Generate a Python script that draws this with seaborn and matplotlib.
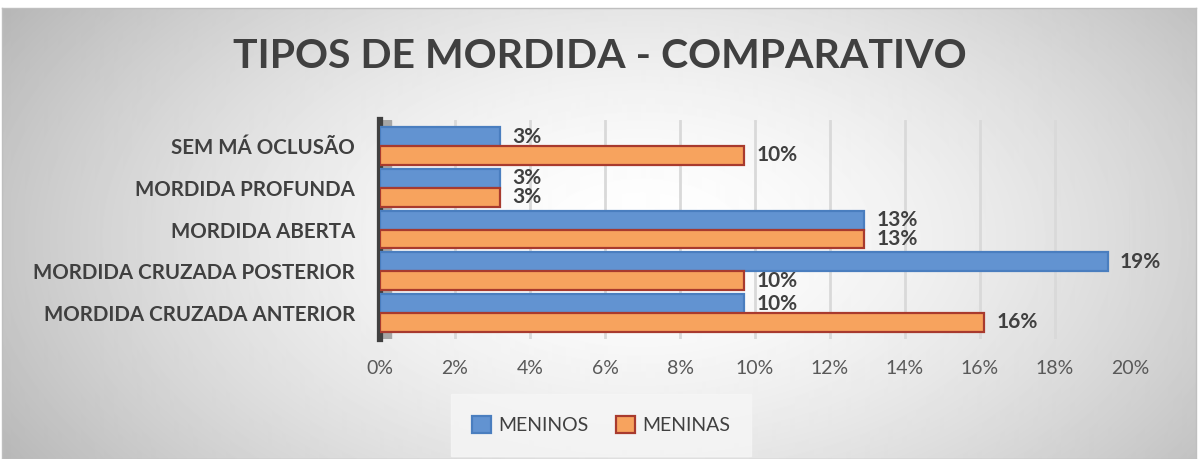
import numpy as np
import pandas as pd
import matplotlib
matplotlib.use("Agg")
import matplotlib.pyplot as plt
import seaborn as sns
from matplotlib.patches import Patch

categorias = ["SEM MÁ OCLUSÃO", "MORDIDA PROFUNDA", "MORDIDA ABERTA",
              "MORDIDA CRUZADA POSTERIOR", "MORDIDA CRUZADA ANTERIOR"]
meninos = [3.2, 3.2, 12.9, 19.4, 9.7]
meninas = [9.7, 3.2, 12.9, 9.7, 16.1]
series = ["MENINOS", "MENINAS"]
xticks = [0, 2, 4, 6, 8, 10, 12, 14, 16, 18, 20]
titulo = "TIPOS DE MORDIDA - COMPARATIVO"

df = pd.DataFrame({
    "categoria": categorias * 2,
    "valor": meninos + meninas,
    "sexo": [series[0]] * len(categorias) + [series[1]] * len(categorias),
})

sns.set_theme(style="white")
FONT = ["Lato", "DejaVu Sans"]
plt.rcParams["font.family"] = FONT
TXT = "#404040"

W, H = 1198, 459
fig = plt.figure(figsize=(W / 100, H / 100), dpi=100)

# background gradient
bg = fig.add_axes([0.0015, 0.0, 0.997, 1 - 8 / H])
yy, xx = np.mgrid[0:451, 0:1196]
cx, cy = 640, 230
r = np.sqrt(((xx - cx) / 620.0) ** 2 + ((yy - cy) / 360.0) ** 2)
g = 1 - 0.21 * np.clip(r, 0, 1.3) ** 1.6
bg.imshow(g, cmap="gray", vmin=0, vmax=1, aspect="auto", interpolation="bilinear")
bg.set_xticks([]); bg.set_yticks([])
for s in bg.spines.values():
    s.set_color("#bfbfbf"); s.set_linewidth(1)

ax = fig.add_axes([380 / W, 1 - 338.9 / H, 750 / W, 218.8 / H])
ax.patch.set_alpha(0)

pal = {"MENINOS": "#6293d1", "MENINAS": "#f7a35e"}
edges = {"MENINOS": "#4a7ebf", "MENINAS": "#a83a2e"}
sns.barplot(data=df, y="categoria", x="valor", hue="sexo", orient="h",
            palette=pal, saturation=1, width=0.9, ax=ax, legend=False, zorder=3,
            order=categorias, hue_order=series)

for cont, name, vals in zip(ax.containers, series, [meninos, meninas]):
    for p in cont:
        p.set_edgecolor(edges[name]); p.set_linewidth(1.6)
    ax.bar_label(cont, labels=[f"{v:.0f}%" for v in vals], padding=9,
                 fontsize=15, fontweight="bold", color=TXT, family=FONT)

ax.set_xlim(0, 20)
ax.set_ylim(4.62, -0.62)
ax.set_xticks(xticks)
ax.set_xticklabels([f"{t}%" for t in xticks])
ax.tick_params(axis="x", length=0, pad=15, labelsize=14, labelcolor="#595959")
ax.tick_params(axis="y", length=0, pad=18, labelsize=14.8, labelcolor=TXT)
for lab in ax.get_yticklabels():
    lab.set_fontweight("bold")
ax.set_xlabel(""); ax.set_ylabel("")
ax.grid(axis="x", color="#d9d9d9", linewidth=2, zorder=0)
ax.grid(axis="y", visible=False)
for k in ["top", "right", "bottom"]:
    ax.spines[k].set_visible(False)
ax.spines["left"].set_color("#404040")
ax.spines["left"].set_linewidth(4.5)
ax.axvspan(0, 0.3, color="#a6a6a6", zorder=1)

fig.text(600 / W, 1 - 57 / H, titulo, ha="center", va="center",
         fontsize=29.5, fontweight="bold", color=TXT, family=FONT)

handles = [Patch(facecolor=pal[s], edgecolor=edges[s], linewidth=1.6, label=s) for s in series]
leg = fig.legend(handles=handles, loc="center", bbox_to_anchor=(601 / W, 1 - 425 / H),
                 ncol=2, frameon=True, handlelength=1.0, handleheight=1.0,
                 columnspacing=1.4, handletextpad=0.35, borderpad=0.8,
                 prop={"family": FONT, "size": 14})
leg.get_frame().set_facecolor("#f6f6f6")
leg.get_frame().set_edgecolor("#f6f6f6")
leg.get_frame().set_boxstyle("square")
for t in leg.get_texts():
    t.set_color(TXT)

fig.savefig("out.png", dpi=100)
